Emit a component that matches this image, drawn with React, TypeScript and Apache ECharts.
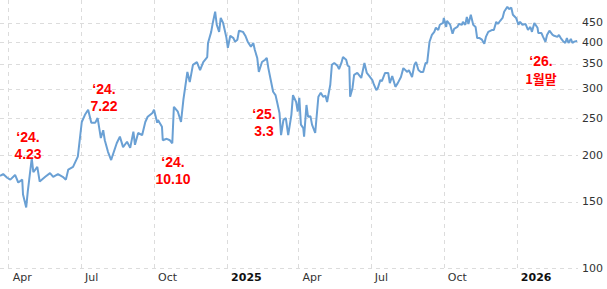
import React, { useEffect, useRef } from 'react';
import * as echarts from 'echarts';

const START = Date.UTC(2024, 2, 21);
const DAY = 86400000;
const END_DAYS = 728;

// day offsets from 2024-03-21 and closing prices
const days2024 = [0, 4, 9, 13, 19, 23, 28, 29, 33, 35, 40, 42, 47, 50, 57, 63, 67, 73, 79, 83, 86, 92, 98, 103, 107, 111, 115, 120, 123, 127, 130, 132, 136, 140, 142, 147, 151, 155, 160, 164, 168, 170, 174, 179, 183, 186, 192, 194, 198, 199, 204, 205, 210, 214, 217, 219, 224, 228, 231, 236, 239, 243, 248, 252, 256, 261, 262, 266, 268, 271, 273, 276, 278, 281, 285];
const prices2024 = [176, 178, 174, 172, 177, 169, 172, 157, 145, 160, 196, 180, 186, 170, 175, 179, 175, 178, 175, 172, 183, 186, 198, 245, 256, 264, 244, 244, 251, 222, 233, 219, 204, 194, 200, 215, 224, 210, 217, 209, 231, 213, 229, 226, 245, 253, 259, 264, 244, 248, 238, 219, 221, 219, 215, 269, 261, 245, 281, 333, 313, 348, 354, 337, 354, 365, 398, 426, 450, 482, 445, 426, 464, 450, 413];

const days2025 = [287, 290, 294, 296, 299, 301, 306, 309, 312, 316, 319, 321, 324, 326, 330, 334, 336, 338, 341, 344, 347, 349, 352, 354, 357, 360, 363, 367, 369, 373, 375, 377, 379, 382, 383, 386, 388, 391, 393, 397, 401, 404, 407, 410, 412, 416, 418, 421, 425, 427, 430, 432, 436, 438, 440, 441, 444, 446, 450, 452, 455, 459, 462, 465, 469, 471, 474, 476, 479, 481, 485, 489, 491, 494, 498, 501, 505, 508, 513, 515, 519, 522, 524, 527, 530, 533, 536, 538, 541, 544, 547, 549, 552, 554, 558, 559, 562, 563, 567, 570, 572, 576, 578, 582, 583, 586, 588, 590, 593, 596, 599, 601, 604, 607, 610, 612, 615, 620, 622, 625, 627, 630, 633, 635, 639, 641, 644, 646, 650];
const prices2025 = [386, 416, 410, 401, 406, 429, 426, 416, 401, 389, 398, 381, 363, 333, 354, 359, 363, 341, 317, 295, 289, 277, 259, 226, 248, 251, 226, 256, 289, 277, 261, 284, 241, 236, 224, 272, 253, 254, 241, 229, 286, 293, 286, 288, 277, 308, 348, 352, 346, 339, 352, 365, 359, 346, 344, 286, 302, 327, 331, 327, 321, 352, 331, 325, 317, 308, 298, 302, 317, 315, 331, 331, 311, 325, 304, 311, 323, 341, 333, 337, 323, 348, 354, 337, 333, 333, 352, 352, 401, 418, 426, 437, 431, 445, 450, 464, 439, 456, 445, 421, 434, 439, 447, 445, 453, 445, 467, 447, 473, 445, 439, 410, 410, 406, 396, 413, 426, 431, 431, 453, 447, 456, 464, 482, 497, 490, 494, 473, 464];

const days2026 = [653, 655, 658, 662, 665, 668, 670, 673, 677, 678, 682, 684, 687, 689, 692, 696, 698, 702, 704, 707, 709, 712, 714, 716, 719, 721, 723, 727];
const prices2026 = [445, 453, 445, 447, 431, 439, 426, 450, 437, 423, 423, 413, 401, 418, 429, 418, 416, 413, 418, 408, 403, 398, 410, 398, 408, 398, 401, 403];

const yTicks = [100, 150, 200, 250, 300, 350, 400, 450];
const quarterStartDates = [
  Date.UTC(2024, 3, 1), Date.UTC(2024, 6, 1), Date.UTC(2024, 9, 1), Date.UTC(2025, 0, 1),
  Date.UTC(2025, 3, 1), Date.UTC(2025, 6, 1), Date.UTC(2025, 9, 1), Date.UTC(2026, 0, 1),
];
const monthNames = ['Jan', 'Feb', 'Mar', 'Apr', 'May', 'Jun', 'Jul', 'Aug', 'Sep', 'Oct', 'Nov', 'Dec'];
const annotationYears = ['\u201824.', '\u201824.', '\u201824.', '\u201825.', '\u201826.'];
const annotationDates = ['4.23', '7.22', '10.10', '3.3', '1월말'];

export default function App() {
  const ref = useRef<HTMLDivElement>(null);
  useEffect(() => {
    if (!ref.current) return;
    const chart = echarts.init(ref.current, null, { renderer: 'svg' });
    const allDays = [...days2024, ...days2025, ...days2026];
    const allPrices = [...prices2024, ...prices2025, ...prices2026];
    const data = allDays.map((d, i) => [d, allPrices[i]]);
    const quarterTicks = quarterStartDates.map((t) => Math.round((t - START) / DAY));
    const annPos = [[28, 145], [104, 97], [173, 170], [264, 122], [541, 69]];
    const baseStyle = {
      fill: '#ff0000',
      fontSize: 14,
      fontWeight: 'bold',
      fontFamily: '"Liberation Sans", Arial, sans-serif',
      align: 'center',
      verticalAlign: 'middle',
    };
    const graphics: any[] = [];
    annotationYears.forEach((t, i) => {
      const hasHangul = /[\uac00-\ud7a3]/.test(annotationDates[i]);
      graphics.push({ type: 'text', x: annPos[i][0], y: annPos[i][1] - 8.5, z: 10, style: { ...baseStyle, text: t } });
      graphics.push({
        type: 'text',
        x: annPos[i][0],
        y: annPos[i][1] + (hasHangul ? 9.5 : 8.5),
        z: 10,
        style: hasHangul
          ? { ...baseStyle, fontSize: 13, fontFamily: '"Noto Sans CJK KR", sans-serif', text: annotationDates[i] }
          : { ...baseStyle, text: annotationDates[i] },
      });
    });
    chart.setOption({
      animation: false,
      backgroundColor: '#ffffff',
      grid: { left: 0, right: 29, top: 0, bottom: 21, containLabel: false },
      xAxis: {
        type: 'value',
        min: 0,
        max: END_DAYS,
        axisLine: { show: false },
        axisTick: { show: false, customValues: quarterTicks },
        splitLine: { show: true, lineStyle: { color: '#dcdcdc', type: [4, 4], width: 1 } },
        axisLabel: {
          customValues: quarterTicks,
          margin: 4,
          align: 'left',
          padding: [0, 0, 0, 4],
          fontFamily: 'DejaVu Sans',
          fontSize: 11,
          color: '#333',
          formatter: (v: number) => {
            const d = new Date(START + v * DAY);
            const m = d.getUTCMonth();
            if (m === 0) return '{y|' + d.getUTCFullYear() + '}';
            return monthNames[m];
          },
          rich: { y: { fontWeight: 'bold', fontFamily: 'DejaVu Sans', fontSize: 11, color: '#111' } },
        },
      },
      yAxis: {
        type: 'log',
        logBase: 10,
        position: 'right',
        min: 100,
        max: 518,
        axisLine: { show: false },
        axisTick: { show: false, customValues: yTicks },
        splitLine: { show: true, lineStyle: { color: '#dcdcdc', type: [4, 4], width: 1 } },
        axisLabel: {
          customValues: yTicks,
          margin: 4,
          fontFamily: 'DejaVu Sans',
          fontSize: 11,
          color: '#333',
        },
      },
      series: [{
        type: 'line',
        data,
        showSymbol: false,
        symbol: 'none',
        lineStyle: { color: '#6aa0d4', width: 2 },
      }],
      graphic: graphics,
    });
    return () => chart.dispose();
  }, []);
  return <div ref={ref} style={{ position: 'fixed', left: 0, top: 0, width: 607, height: 289 }} />;
}
